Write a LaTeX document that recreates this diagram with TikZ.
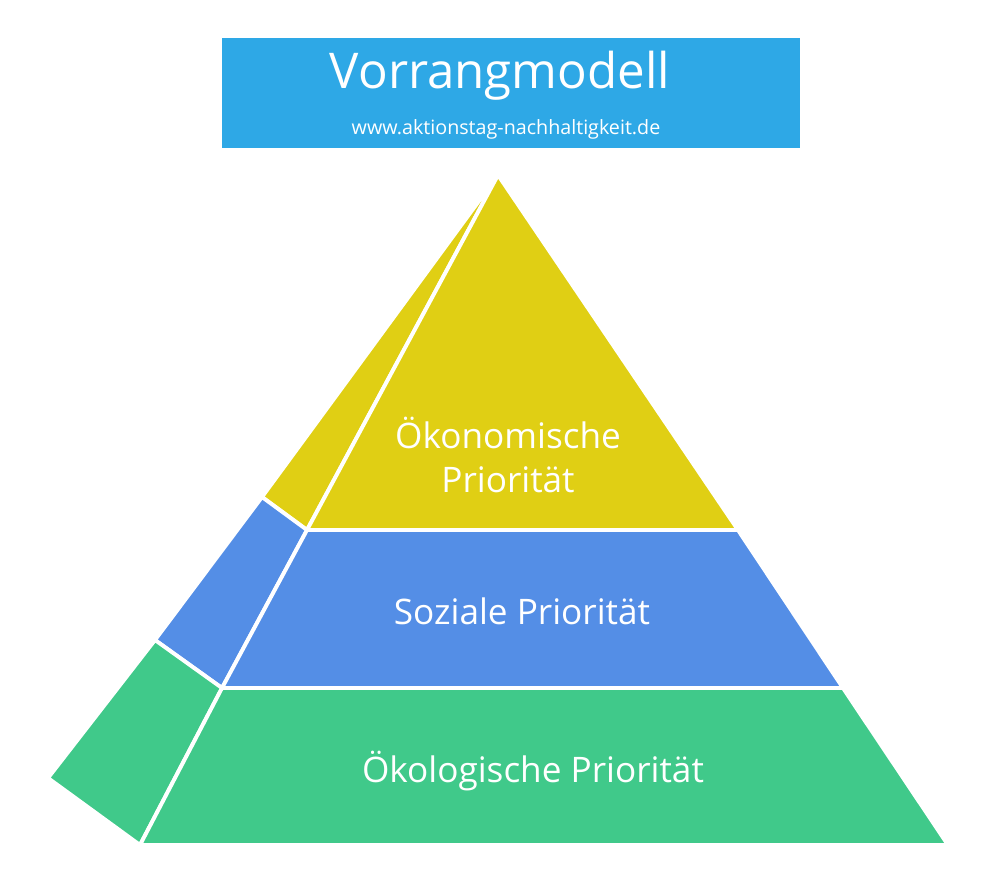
\documentclass[tikz,border=0pt]{standalone}
\usepackage{fontspec}
\setmainfont{Open Sans}
\usetikzlibrary{positioning}
\definecolor{titleblue}{HTML}{2EA8E6}
\definecolor{oekoyellow}{HTML}{E0CF14}
\definecolor{sozblue}{HTML}{548EE6}
\definecolor{oekogreen}{HTML}{40C98A}
\begin{document}
\begin{tikzpicture}[x=0.01cm,y=-0.01cm]
		\tikzstyle{face} = [draw=white,line width=1.1pt,line join=round]
		\tikzstyle{lbl} = [white,font=\fontsize{10pt}{12.5pt}\selectfont,align=center]
		\useasboundingbox (0,0) rectangle (1000,890);
		% title
		\fill[titleblue] (222,38) rectangle (800,148);
		\node[white,font=\fontsize{14pt}{16pt}\selectfont] (title) at (500,76) {Vorrangmodell};
		\node[white,font=\fontsize{5.6pt}{7pt}\selectfont] (url) at (506,129) {www.aktionstag-nachhaltigkeit.de};
		% corner points
		\coordinate (top) at (498,175);
		\coordinate (yl) at (307,530); \coordinate (yr) at (738,530);
		\coordinate (bl) at (222,688); \coordinate (br) at (843,688);
		\coordinate (gl) at (140,845); \coordinate (gr) at (948,845);
		\coordinate (sy) at (262,497); \coordinate (sb) at (155,640); \coordinate (sg) at (48,778);
		% side faces
		\filldraw[face,fill=oekoyellow] (top) -- (sy) -- (yl) -- cycle;
		\filldraw[face,fill=sozblue] (sy) -- (sb) -- (bl) -- (yl) -- cycle;
		\filldraw[face,fill=oekogreen] (sb) -- (sg) -- (gl) -- (bl) -- cycle;
		% front faces
		\filldraw[face,fill=oekoyellow] (top) -- (yl) -- (yr) -- cycle;
		\filldraw[face,fill=sozblue] (yl) -- (bl) -- (br) -- (yr) -- cycle;
		\filldraw[face,fill=oekogreen] (bl) -- (gl) -- (gr) -- (br) -- cycle;
		% labels
		\node[lbl] (oek) at (508,455) {Ökonomische\\Priorität};
		\node[lbl] (soz) at (522,611) {Soziale Priorität};
		\node[lbl] (oeko) at (533,771) {Ökologische Priorität};
\end{tikzpicture}
\end{document}
